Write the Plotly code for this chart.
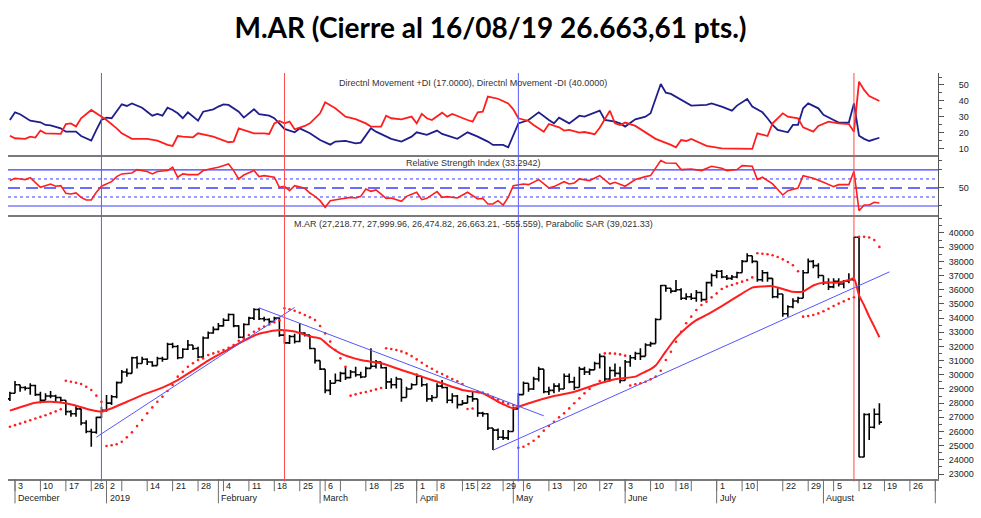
import plotly.graph_objects as go

# ---------------- data (session index 0 = 30-Nov-2018 ... 171 = 16-Aug-2019) ----------------
opens = [28300,28700,29300,29100,29050,29250,28600,28200,28500,28500,
         28400,28200,27400,27250,27600,26600,26000,25950,27000,27500,
         28000,28450,29450,30200,30100,31200,30800,31100,30900,30650,
         31150,31100,32150,32000,31200,31800,32100,31850,31250,32600,
         32950,33200,33450,33850,34250,33450,32650,33550,34000,34600,
         33950,33900,33750,34000,32800,32250,32700,32350,32950,32800,
         31850,31000,30400,28900,29400,29600,30100,29800,30200,30000,
         29850,30450,30600,30900,30500,29500,29300,29700,28400,29000,
         29300,29900,29300,28300,28400,29200,29100,28200,28500,27900,
         28000,28450,28300,27300,27250,26250,26100,25600,25550,26000,
         27600,28600,29400,29000,29700,30400,28800,28900,29200,29000,
         29900,29500,29100,30400,30200,30350,30800,31300,29700,30300,
         30100,29600,30900,31200,31500,31300,32100,32200,33900,36300,
         36100,35900,36000,35400,35500,35400,35800,35300,36500,37000,
         37300,36900,36800,36900,37200,38000,38400,38000,36700,37200,
         36800,35500,35700,34300,34800,35200,35400,37200,38000,37700,
         37000,36500,36200,36600,36400,36600,36700,39700,24200,27200,
         26300,27219]
highs = [28800,29560,29300,29200,29400,29300,28800,28700,28850,28600,
         28450,28200,27500,27850,27600,26800,26200,27050,27750,28580,
         28580,29520,30340,30450,31280,31300,31280,31160,30950,31280,
         31280,32260,32260,32100,31870,32450,32100,31980,32700,33050,
         33400,33650,33980,34330,34300,33500,33630,34100,34690,34690,
         34100,33980,34100,34100,33100,32800,32900,33630,33000,32800,
         31870,31000,30400,29630,30100,30220,30570,30340,30570,30220,
         30570,31870,31040,30920,30570,29750,29870,29700,29160,29400,
         30100,29900,29400,28570,29400,29630,29160,28690,28570,28220,
         28570,28810,28300,27400,27280,26250,26220,26100,26100,27750,
         28690,29520,29400,29870,30570,30400,29160,29400,29400,30100,
         30100,29870,30570,30570,30450,30920,31510,31300,30570,30800,
         30570,31040,31400,31630,31870,32220,32330,33980,36330,36330,
         36100,36690,36100,35750,35750,35980,35860,36570,37150,37390,
         37390,37040,37040,37270,38100,38570,38400,38000,37390,37270,
         36800,36100,35700,34900,35390,35510,37390,38210,38100,37860,
         37000,36800,36800,36800,36690,37160,39740,39700,27280,27280,
         27630,28000]
lows = [28150,28700,28800,28900,28600,28500,27990,28200,28350,28100,
        28100,27150,27050,27050,26450,25870,24930,25850,26950,27400,
        27870,28350,29450,29870,30100,30450,30800,30690,30570,30650,
        30920,31100,31870,31100,31200,31750,31750,31160,31200,32550,
        32900,33150,33400,33800,33350,32570,32600,33500,33860,33860,
        33750,33620,33750,32690,32200,32180,32200,32300,32700,31800,
        30800,30340,28690,28570,29400,29500,29630,29750,29870,29750,
        29850,30450,30450,30450,29000,29040,29040,28100,28400,28990,
        29280,29160,28100,28100,28400,29040,27990,27990,27630,27870,
        27990,28100,27050,27050,26100,24700,25400,25400,25400,26000,
        27600,28600,28800,28930,29520,28700,28570,28690,28800,29000,
        29400,28930,29100,29990,29990,30340,30450,29520,29520,29870,
        29400,29600,30570,31040,31040,31300,31980,32200,33900,35860,
        35750,35860,35280,35280,35280,35160,35160,35280,36220,36800,
        36800,36690,36690,36800,37200,37980,37860,36570,36570,36570,
        35390,35390,34100,34100,34690,35040,35390,37160,37510,36800,
        36330,35980,36100,36220,36100,36450,36600,24180,24180,25400,
        26220,26475]
closes = [28700,29300,29100,29050,29250,28600,28200,28500,28500,28400,
          28200,27400,27250,27600,26600,26000,25950,27000,27500,28000,
          28450,29450,30200,30100,31200,30800,31100,30900,30650,31150,
          31100,32150,32000,31200,31800,32100,31850,31250,32600,32950,
          33200,33450,33850,34250,33450,32650,33550,34000,34600,33950,
          33900,33750,34000,32800,32250,32700,32350,32950,32800,31850,
          31000,30400,28900,29400,29600,30100,29800,30200,30000,29850,
          30450,30600,30900,30500,29500,29300,29700,28400,29000,29300,
          29900,29300,28300,28400,29200,29100,28200,28500,27900,28000,
          28450,28300,27300,27250,26250,26100,25600,25550,26000,27600,
          28600,29400,29000,29700,30400,28800,28900,29200,29000,29900,
          29500,29100,30400,30200,30350,30800,31300,29700,30300,30100,
          29600,30900,31200,31500,31300,32100,32200,33900,36300,36100,
          35900,36000,35400,35500,35400,35800,35300,36500,37000,37300,
          36900,36800,36900,37200,38000,38400,38000,36700,37200,36800,
          35500,35700,34300,34800,35200,35400,37200,38000,37700,37000,
          36500,36200,36600,36400,36600,36700,39700,24200,27200,26300,
          27219,26663]
sar = [26340,26450,26560,26680,26800,26920,27030,27150,27280,27420,
       27570,29580,29510,29440,29350,29160,28930,28530,28100,24980,
       25030,25100,25280,25590,25940,26390,26810,27280,27700,28100,
       28460,28860,29280,29870,30220,30570,30810,31040,31150,31400,
       31510,31630,31750,31910,32100,32400,32550,32810,33040,33250,
       33400,33550,33700,33850,34690,34620,34520,34380,34220,34050,
       33860,33440,32920,32340,31750,31160,30570,28530,28620,28720,
       28790,28880,28970,29070,31870,31820,31750,31650,31510,31320,
       31090,30850,30620,30430,30220,30060,29870,29700,29540,29350,
       27590,27620,28810,28740,28600,28430,28250,28080,27950,27850,
       24860,24930,25120,25350,25640,26060,26390,26690,27000,27280,
       27630,27990,28340,28690,29000,29280,29560,31510,31510,31490,
       31440,31350,29250,29330,29400,29515,29680,29870,30290,31040,
       31630,32330,33040,33630,34100,34570,34920,35160,35460,35740,
       36050,36220,36330,36450,36570,36690,36870,38570,38540,38500,
       38430,38310,38140,37950,37720,37300,34100,34150,34220,34330,
       34480,34660,34850,35020,35180,35340,35460,39740,39740,39680,
       39500,39021]

ma_idx = [0,5,8,11,13,16,18,20,23,26,30,33,36,39,43,46,49,53,56,59,
          61,63,65,69,73,77,81,85,89,93,96,99,100,103,107,111,115,119,123,124,
          126,127,129,131,133,135,137,140,143,146,148,150,152,154,156,158,160,163,165,166,
          167,168,169,170,171]
ma_val = [27470,28030,28100,28000,27820,27520,27400,27630,28100,28570,29100,29630,30300,31000,31800,32400,32900,33160,33050,32700,
          32570,31980,31510,31040,30810,30340,29870,29400,28930,28690,28100,27630,27750,28100,28500,28810,29280,29680,29870,30050,
          30400,30650,31650,32600,33300,33850,34220,34850,35510,36150,36230,36250,36050,35850,35880,36300,36500,36500,36690,36800,
          35600,34900,34100,33400,32650]

dip_idx = [0,1,2,4,6,7,8,10,11,13,14,16,17,18,19,20,22,23,24,26,27,28,29,30,31,32,33,34,35,37,
           38,40,41,42,43,45,46,48,49,51,52,54,56,57,59,61,63,64,66,68,69,71,72,74,75,77,79,80,82,84,
           85,88,90,92,94,95,97,98,100,102,104,106,107,108,110,112,113,116,117,119,120,121,123,125,126,128,129,130,132,134,
           137,138,140,142,143,145,146,148,149,150,151,153,154,155,156,157,159,160,162,163,165,166,167,168,169,171]
dip_val = [28.1,32.9,31.7,27.7,26.7,25.0,24.8,22.9,20.8,20.8,18.1,15.2,21.9,28.1,29.6,29.2,37.9,36.9,38.5,35.8,33.3,30.8,31.9,30.8,35.8,34.4,32.3,29.2,32.9,27.7,
           33.3,34.8,36.5,37.9,37.5,33.3,29.6,34.8,31.7,30.8,29.2,22.5,20.4,22.9,19.8,15.6,12.7,14.6,15.0,13.5,14.0,22.9,20.8,18.1,16.3,14.6,17.7,20.4,18.8,21.5,
           19.4,16.3,20.4,17.7,14.6,12.5,12.5,11.0,26.0,28.1,32.9,28.1,26.0,29.6,26.0,30.8,30.2,34.0,28.1,27.1,26.0,24.0,28.5,30.2,32.3,50.6,45.2,44.4,40.6,37.1,
           37.5,38.5,36.5,34.0,37.1,41.3,36.5,32.9,29.2,25.0,21.9,20.4,25.0,25.0,35.4,38.5,35.4,31.3,28.1,26.5,26.5,38.5,18.3,16.3,15.0,17.0]

dim_idx = [0,1,3,4,5,6,7,10,11,12,13,14,16,18,19,21,22,24,27,29,31,32,33,34,36,37,40,43,44,45,
           47,48,50,51,52,53,54,55,56,58,59,61,62,64,66,68,70,71,73,74,75,77,79,80,81,82,83,85,86,87,
           90,91,92,93,94,96,98,99,100,102,103,105,106,108,109,110,112,113,115,116,118,119,120,121,123,125,127,130,131,132,
           133,134,137,140,143,146,147,149,150,152,153,155,156,158,159,161,163,165,166,167,168,169,171]
dim_val = [18.3,16.7,16.3,17.7,17.1,21.5,19.8,19.4,25.6,26.0,24.0,29.2,34.4,30.2,28.1,22.9,19.8,16.3,16.3,15.2,12.5,11.9,18.1,17.7,17.3,19.8,17.7,14.2,14.6,22.9,
           20.8,19.8,19.8,19.4,26.0,27.5,26.0,27.1,22.3,24.4,26.0,32.3,39.2,35.4,30.2,28.7,26.0,24.0,24.0,30.8,29.2,28.5,30.2,26.0,31.9,29.2,28.1,32.7,30.2,31.9,
           28.1,27.1,32.9,33.3,42.7,41.4,38.5,34.8,29.2,27.5,25.0,20.8,25.6,23.5,21.5,21.9,20.2,20.6,19.2,23.3,33.9,26.0,25.0,26.5,24.4,20.2,16.3,12.5,11.0,15.6,
           15.0,16.3,11.9,10.4,10.4,10.0,19.8,18.1,26.0,32.3,30.2,29.2,23.5,20.8,24.4,27.1,26.0,25.6,20.8,52.1,46.9,43.1,40.0]

rsi_idx = [0,1,2,3,4,5,6,8,9,10,11,12,13,14,15,16,17,18,19,20,21,22,24,25,27,28,29,31,32,33,
           34,35,37,38,40,41,43,44,45,46,48,49,50,52,53,54,55,56,58,59,60,61,62,63,65,67,68,69,70,71,
           72,74,75,77,78,80,81,82,84,85,86,88,90,92,93,94,95,96,97,98,99,101,102,104,106,107,109,110,111,112,
           114,116,118,119,121,123,125,126,128,129,131,132,134,136,138,139,140,141,143,144,146,147,148,150,152,153,155,156,158,160,
           162,163,165,166,167,168,169,170,171]
rsi_val = [58.2,60.7,60.0,59.3,61.5,56.3,50.7,54.4,51.9,52.6,44.1,43.3,44.5,39.6,36.7,36.7,45.2,51.9,54.5,57.0,62.6,65.6,66.7,70.4,68.2,65.6,68.2,69.3,73.0,61.9,
           65.6,64.8,64.8,69.3,71.9,73.0,76.7,69.3,60.0,64.4,69.3,62.6,63.7,61.9,50.7,51.9,47.0,52.6,49.6,44.4,40.7,35.9,28.5,35.9,37.8,39.6,38.9,40.7,48.9,46.3,
           47.8,38.5,38.9,35.2,40.7,45.2,37.0,38.5,45.9,39.6,40.4,38.9,45.2,37.8,38.5,32.2,32.2,35.9,31.1,39.6,52.6,54.4,53.7,59.3,50.0,51.5,57.0,54.4,55.6,60.0,
           58.2,63.7,54.4,56.3,51.9,59.3,62.6,63.7,80.4,77.8,77.4,70.4,71.1,69.3,74.1,73.0,71.9,69.3,70.4,74.8,74.1,59.3,61.9,54.5,42.2,47.0,50.0,63.7,60.7,56.3,
           51.5,53.7,53.7,68.5,24.8,31.1,31.1,34.1,33.3]
rsi_levels = [70, 60, 50, 40, 30]

trend_x0 = [17, 49, 95]
trend_y0 = [25600, 34720, 24680]
trend_x1 = [56, 105, 173]
trend_y1 = [34750, 27110, 37260]

event_idx = [18, 54, 100, 166]
event_col = ['#5b5bff', '#ff4a4a', '#5b5bff', '#ff4a4a']

price_ticks = list(range(23000, 40001, 1000))

week_idx = [1, 6, 11, 16, 19, 22, 27, 32, 37, 42, 47, 52, 57, 62, 65, 70, 75, 80, 84, 89, 92, 97,
            101, 106, 111, 116, 121, 126, 131, 134, 139, 144, 147, 152, 157, 162, 167, 172, 177, 182]
week_lbl = ['3', '10', '17', '26', '2', '', '14', '21', '28', '4', '11', '18', '25', '6', '', '18', '25', '1', '8', '15', '22', '29',
            '6', '13', '20', '27', '3', '10', '18', '', '1', '10', '', '22', '29', '5', '12', '19', '26', '']
month_idx = [1, 19, 41, 61, 80, 99, 121, 139, 160, 182]
month_lbl = ['December', '2019', 'February', 'March', 'April', 'May', 'June', 'July', 'August', '']

sessions = list(range(len(closes)))

# ---------------- figure ----------------
AX_FONT = dict(family='Liberation Sans, Arial', size=9, color='#222222')
RED = '#ff1e1e'
NAVY = '#1e1e8c'

fig = go.Figure()

# Directional movement
fig.add_trace(go.Scatter(x=dip_idx, y=dip_val, mode='lines', line=dict(color=NAVY, width=1.8),
                         xaxis='x', yaxis='y', hoverinfo='skip'))
fig.add_trace(go.Scatter(x=dim_idx, y=dim_val, mode='lines', line=dict(color=RED, width=1.8),
                         xaxis='x', yaxis='y', hoverinfo='skip'))
# RSI
fig.add_trace(go.Scatter(x=rsi_idx, y=rsi_val, mode='lines', line=dict(color=RED, width=1.6),
                         xaxis='x', yaxis='y2', hoverinfo='skip'))
# Price
fig.add_trace(go.Ohlc(x=sessions, open=opens, high=highs, low=lows, close=closes,
                      increasing=dict(line=dict(color='black', width=1.6)),
                      decreasing=dict(line=dict(color='black', width=1.6)),
                      tickwidth=0.5, xaxis='x', yaxis='y3', hoverinfo='skip'))
fig.add_trace(go.Scatter(x=ma_idx, y=ma_val, mode='lines', line=dict(color=RED, width=2, shape='spline', smoothing=0.6),
                         xaxis='x', yaxis='y3', hoverinfo='skip'))
fig.add_trace(go.Scatter(x=sessions, y=sar, mode='markers', marker=dict(color=RED, size=2.6, symbol='circle'),
                         xaxis='x', yaxis='y3', hoverinfo='skip'))
for x0, y0, x1, y1 in zip(trend_x0, trend_y0, trend_x1, trend_y1):
    fig.add_trace(go.Scatter(x=[x0, x1], y=[y0, y1], mode='lines', line=dict(color='#5555ff', width=1),
                             xaxis='x', yaxis='y3', hoverinfo='skip'))

shapes = []
# RSI reference lines
for lv in rsi_levels:
    if lv in (70, 30):
        dash, w = 'solid', 1.2
    elif lv == 50:
        dash, w = '12px,6px', 1.4
    else:
        dash, w = 'dot', 1
    shapes.append(dict(type='line', xref='paper', x0=0, x1=1, yref='y2', y0=lv, y1=lv,
                       line=dict(color='#3c3cff', width=w, dash=dash), layer='below'))
# panel separators
for yd in ['y domain', 'y2 domain']:
    shapes.append(dict(type='line', xref='paper', x0=0, x1=1, yref=yd, y0=0, y1=0,
                       line=dict(color='#7a7a7a', width=2)))
# event verticals
for ei, ec in zip(event_idx, event_col):
    shapes.append(dict(type='line', xref='x', x0=ei, x1=ei, yref='paper', y0=-0.006, y1=1,
                       line=dict(color=ec, width=1)))
# date axis separators
for wi in week_idx:
    shapes.append(dict(type='line', xref='x', x0=wi, x1=wi, yref='paper', y0=0, y1=-0.03,
                       line=dict(color='#6e6e6e', width=1)))
for mi in month_idx:
    shapes.append(dict(type='line', xref='x', x0=mi, x1=mi, yref='paper', y0=0, y1=-0.06,
                       line=dict(color='#6e6e6e', width=1)))

annotations = []
for wi, wl in zip(week_idx, week_lbl):
    if wl:
        annotations.append(dict(x=wi, xref='x', y=-0.0165, yref='paper', text=wl, showarrow=False,
                                xanchor='left', yanchor='middle', xshift=1, font=AX_FONT))
for mi, ml in zip(month_idx, month_lbl):
    if ml:
        annotations.append(dict(x=mi, xref='x', y=-0.047, yref='paper', text=ml, showarrow=False,
                                xanchor='left', yanchor='middle', xshift=1, font=AX_FONT))
LBL_FONT = dict(family='Liberation Sans, Arial', size=9, color='#333333')
annotations.append(dict(x=0.5, xref='paper', y=0.9754, yref='paper', showarrow=False, font=LBL_FONT,
                        xanchor='center', yanchor='middle',
                        text='Directnl Movement +DI (17.0000), Directnl Movement -DI (40.0000)'))
annotations.append(dict(x=0.5, xref='paper', y=0.7783, yref='paper', showarrow=False, font=LBL_FONT,
                        xanchor='center', yanchor='middle',
                        text='Relative Strength Index (33.2942)'))
annotations.append(dict(x=0.5, xref='paper', y=0.628, yref='paper', showarrow=False, font=LBL_FONT,
                        xanchor='center', yanchor='middle',
                        text='M.AR (27,218.77, 27,999.96, 26,474.82, 26,663.21, -555.559), Parabolic SAR (39,021.33)'))

yaxis_common = dict(side='right', anchor='x', showgrid=False, zeroline=False, showline=True,
                    linecolor='#555555', linewidth=1, ticks='outside', ticklen=5, tickcolor='#555555',
                    tickfont=AX_FONT, fixedrange=True)

fig.update_layout(
    width=981, height=518,
    margin=dict(l=8, r=43, t=73, b=39),
    paper_bgcolor='white', plot_bgcolor='white', showlegend=False,
    title=dict(text='<b>M.AR (Cierre al 16/08/19 26.663,61 pts.)</b>', x=0.5, xref='container', xanchor='center',
               y=1 - 28 / 518, yref='container', yanchor='middle',
               font=dict(family='Lato, Carlito, Open Sans', size=28, color='black')),
    xaxis=dict(domain=[0, 1], range=[-0.377, 182.53], anchor='y3', showticklabels=False, ticks='',
               showgrid=False, zeroline=False, showline=True, linecolor='#7a7a7a', linewidth=2,
               rangeslider=dict(visible=False), fixedrange=True),
    yaxis=dict(domain=[0.7956, 1], range=[5.6, 57.5], tickvals=[10, 20, 30, 40, 50],
               minor=dict(dtick=5, ticklen=3, ticks='outside', tickcolor='#555555'),
               ticklabelstandoff=13, **yaxis_common),
    yaxis2=dict(domain=[0.6478, 0.7956], range=[18.9, 85.5], tickvals=[50],
                minor=dict(tickvals=[30, 70, 80], ticklen=3, ticks='outside', tickcolor='#555555'),
                ticklabelstandoff=13, **yaxis_common),
    yaxis3=dict(domain=[0, 0.6478], range=[22652, 41199], tickvals=price_ticks, tickformat='d',
                minor=dict(dtick=500, ticklen=3, ticks='outside', tickcolor='#555555'),
                ticklabelstandoff=3, **yaxis_common),
    shapes=shapes, annotations=annotations,
)

fig.write_html('out.html')
